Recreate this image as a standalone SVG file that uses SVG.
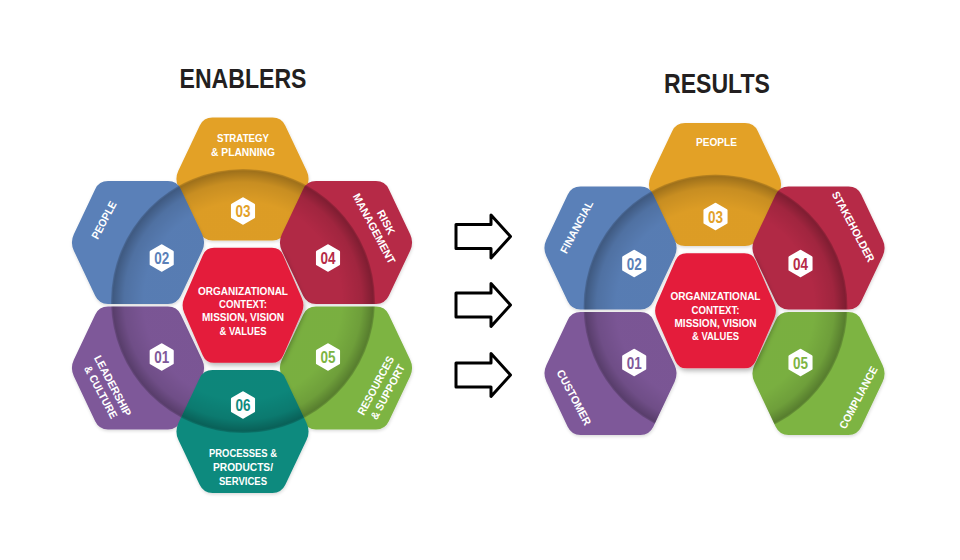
<svg xmlns="http://www.w3.org/2000/svg" xmlns:xlink="http://www.w3.org/1999/xlink" width="960" height="560" viewBox="0 0 960 560">
<style>
.title{font-family:"Liberation Sans",Arial,sans-serif;font-weight:bold;font-size:28px;fill:#231F20;text-anchor:middle}
.lbl{font-family:"Liberation Sans",Arial,sans-serif;font-weight:bold;font-size:11px;fill:#FFFFFF;text-anchor:middle}
.num{font-family:"Liberation Sans",Arial,sans-serif;font-weight:bold;font-size:17px;text-anchor:middle}
.badge{fill:#FFFFFF;stroke:#FFFFFF;stroke-width:2.5;stroke-linejoin:round}
.arrow{fill:#FFFFFF;stroke:#000000;stroke-width:3;stroke-linejoin:round}
</style>
<defs>
<path id="hex" d="M-64.16,8.14 Q-68,0 -64.16,-8.14 L-42.84,-53.36 Q-39,-61.5 -30,-61.5 L30,-61.5 Q39,-61.5 42.84,-53.36 L64.16,-8.14 Q68,0 64.16,8.14 L42.84,53.36 Q39,61.5 30,61.5 L-30,61.5 Q-39,61.5 -42.84,53.36 Z"/>
<path id="hexC" d="M-58.81,7.34 Q-62,0 -58.81,-7.34 L-40.19,-50.16 Q-37,-57.5 -29,-57.5 L29,-57.5 Q37,-57.5 40.19,-50.16 L58.81,-7.34 Q62,0 58.81,7.34 L40.19,50.16 Q37,57.5 29,57.5 L-29,57.5 Q-37,57.5 -40.19,50.16 Z"/>
<polygon id="badge" points="0,-12.5 10.8,-6.2 10.8,6.2 0,12.5 -10.8,6.2 -10.8,-6.2"/>
<path id="arrow" d="M456,-12 L491,-12 L491,-21.5 L510.5,0 L491,21.5 L491,12 L456,12 Z"/>
<radialGradient id="ring" cx="0.5" cy="0.5" r="0.5">
<stop offset="0" stop-color="#000" stop-opacity="0.03"/>
<stop offset="0.75" stop-color="#000" stop-opacity="0.03"/>
<stop offset="0.9" stop-color="#000" stop-opacity="0.12"/>
<stop offset="0.985" stop-color="#000" stop-opacity="0.3"/>
<stop offset="1" stop-color="#000" stop-opacity="0.15"/>
</radialGradient>
<filter id="sh" x="-20%" y="-20%" width="140%" height="140%">
<feDropShadow dx="1.5" dy="2.5" stdDeviation="2.5" flood-color="#000" flood-opacity="0.3"/>
</filter>
<filter id="sh2" x="-20%" y="-20%" width="140%" height="140%">
<feDropShadow dx="0.5" dy="1.5" stdDeviation="1.5" flood-color="#000" flood-opacity="0.15"/>
</filter>
<clipPath id="cl03"><use xlink:href="#hex" transform="translate(242.5,179)"/></clipPath>
<clipPath id="cl02"><use xlink:href="#hex" transform="translate(138,242.5)"/></clipPath>
<clipPath id="cl04"><use xlink:href="#hex" transform="translate(346,242.5)"/></clipPath>
<clipPath id="cl01"><use xlink:href="#hex" transform="translate(138,368)"/></clipPath>
<clipPath id="cl05"><use xlink:href="#hex" transform="translate(346,368)"/></clipPath>
<clipPath id="cl06"><use xlink:href="#hex" transform="translate(242.5,431.5)"/></clipPath>
<clipPath id="cr03"><use xlink:href="#hex" transform="translate(715,184.5)"/></clipPath>
<clipPath id="cr02"><use xlink:href="#hex" transform="translate(610.5,248)"/></clipPath>
<clipPath id="cr04"><use xlink:href="#hex" transform="translate(818.5,248)"/></clipPath>
<clipPath id="cr01"><use xlink:href="#hex" transform="translate(610.5,373.5)"/></clipPath>
<clipPath id="cr05"><use xlink:href="#hex" transform="translate(818.5,373.5)"/></clipPath>
</defs>
<rect width="960" height="560" fill="#FFFFFF"/>

<text class="title" x="243" y="88" textLength="127" lengthAdjust="spacingAndGlyphs">ENABLERS</text>
<text class="title" x="717" y="93" textLength="106" lengthAdjust="spacingAndGlyphs">RESULTS</text>

<!-- ENABLERS -->
<g id="enabler-03-strategy">
<use xlink:href="#hex" transform="translate(242.5,179)" fill="#E3A128" filter="url(#sh2)"/>
<circle cx="243" cy="301" r="132" fill="url(#ring)" clip-path="url(#cl03)"/>
<use xlink:href="#badge" class="badge" transform="translate(243,211)"/>
<text class="num" x="243" y="217.2" fill="#E3A128" textLength="15" lengthAdjust="spacingAndGlyphs">03</text>
<text class="lbl" x="243" y="141.8" textLength="52" lengthAdjust="spacingAndGlyphs">STRATEGY</text>
<text class="lbl" x="243" y="155.8" textLength="64" lengthAdjust="spacingAndGlyphs">&amp; PLANNING</text>
</g>
<g id="enabler-02-people">
<use xlink:href="#hex" transform="translate(138,242.5)" fill="#5A80B8" filter="url(#sh2)"/>
<circle cx="243" cy="301" r="132" fill="url(#ring)" clip-path="url(#cl02)"/>
<use xlink:href="#badge" class="badge" transform="translate(161.7,258)"/>
<text class="num" x="161.7" y="264.2" fill="#5A80B8" textLength="15" lengthAdjust="spacingAndGlyphs">02</text>
<text class="lbl" transform="translate(104,220) rotate(-62)" y="3.8" textLength="41" lengthAdjust="spacingAndGlyphs">PEOPLE</text>
</g>
<g id="enabler-04-risk">
<use xlink:href="#hex" transform="translate(346,242.5)" fill="#B62B47" filter="url(#sh2)"/>
<circle cx="243" cy="301" r="132" fill="url(#ring)" clip-path="url(#cl04)"/>
<use xlink:href="#badge" class="badge" transform="translate(328,258)"/>
<text class="num" x="328" y="264.2" fill="#B62B47" textLength="15" lengthAdjust="spacingAndGlyphs">04</text>
<g transform="translate(380,225.5) rotate(62)">
<text class="lbl" y="-3" textLength="26" lengthAdjust="spacingAndGlyphs">RISK</text>
<text class="lbl" y="10.5" textLength="78" lengthAdjust="spacingAndGlyphs">MANAGEMENT</text>
</g>
</g>
<g id="enabler-01-leadership">
<use xlink:href="#hex" transform="translate(138,368)" fill="#7E5899" filter="url(#sh2)"/>
<circle cx="243" cy="301" r="132" fill="url(#ring)" clip-path="url(#cl01)"/>
<use xlink:href="#badge" class="badge" transform="translate(161.7,357)"/>
<text class="num" x="161.7" y="363.2" fill="#7E5899" textLength="15" lengthAdjust="spacingAndGlyphs">01</text>
<g transform="translate(106.75,389) rotate(62)">
<text class="lbl" y="-3" textLength="67" lengthAdjust="spacingAndGlyphs">LEADERSHIP</text>
<text class="lbl" y="10.5" textLength="58" lengthAdjust="spacingAndGlyphs">&amp; CULTURE</text>
</g>
</g>
<g id="enabler-05-resources">
<use xlink:href="#hex" transform="translate(346,368)" fill="#7DB443" filter="url(#sh2)"/>
<circle cx="243" cy="301" r="132" fill="url(#ring)" clip-path="url(#cl05)"/>
<use xlink:href="#badge" class="badge" transform="translate(328,357)"/>
<text class="num" x="328" y="363.2" fill="#7DB443" textLength="15" lengthAdjust="spacingAndGlyphs">05</text>
<g transform="translate(381.75,388.75) rotate(-62)">
<text class="lbl" y="-3" textLength="65" lengthAdjust="spacingAndGlyphs">RESOURCES</text>
<text class="lbl" y="10.5" textLength="61" lengthAdjust="spacingAndGlyphs">&amp; SUPPORT</text>
</g>
</g>
<g id="enabler-06-processes">
<use xlink:href="#hex" transform="translate(242.5,431.5)" fill="#108A7E" filter="url(#sh2)"/>
<circle cx="243" cy="301" r="132" fill="url(#ring)" clip-path="url(#cl06)"/>
<use xlink:href="#badge" class="badge" transform="translate(243,405)"/>
<text class="num" x="243" y="411.2" fill="#108A7E" textLength="15" lengthAdjust="spacingAndGlyphs">06</text>
<text class="lbl" x="243" y="457.3" textLength="68" lengthAdjust="spacingAndGlyphs">PROCESSES &amp;</text>
<text class="lbl" x="243" y="471.3" textLength="60" lengthAdjust="spacingAndGlyphs">PRODUCTS/</text>
<text class="lbl" x="243" y="485.3" textLength="48" lengthAdjust="spacingAndGlyphs">SERVICES</text>
</g>
<g id="enabler-center">
<use xlink:href="#hexC" transform="translate(243,305.3)" fill="#E41E3A" filter="url(#sh)"/>
<text class="lbl" x="243" y="294.6" textLength="90" lengthAdjust="spacingAndGlyphs">ORGANIZATIONAL</text>
<text class="lbl" x="243" y="308" textLength="48" lengthAdjust="spacingAndGlyphs">CONTEXT:</text>
<text class="lbl" x="243" y="321.4" textLength="82" lengthAdjust="spacingAndGlyphs">MISSION, VISION</text>
<text class="lbl" x="243" y="334.8" textLength="47" lengthAdjust="spacingAndGlyphs">&amp; VALUES</text>
</g>

<!-- RESULTS -->
<g id="result-03-people">
<use xlink:href="#hex" transform="translate(715,184.5)" fill="#E3A128" filter="url(#sh2)"/>
<circle cx="715.5" cy="306.5" r="132" fill="url(#ring)" clip-path="url(#cr03)"/>
<use xlink:href="#badge" class="badge" transform="translate(715.5,216.5)"/>
<text class="num" x="715.5" y="222.7" fill="#E3A128" textLength="15" lengthAdjust="spacingAndGlyphs">03</text>
<text class="lbl" x="716.5" y="145.5" textLength="41" lengthAdjust="spacingAndGlyphs">PEOPLE</text>
</g>
<g id="result-02-financial">
<use xlink:href="#hex" transform="translate(610.5,248)" fill="#5A80B8" filter="url(#sh2)"/>
<circle cx="715.5" cy="306.5" r="132" fill="url(#ring)" clip-path="url(#cr02)"/>
<use xlink:href="#badge" class="badge" transform="translate(634.2,263.5)"/>
<text class="num" x="634.2" y="269.7" fill="#5A80B8" textLength="15" lengthAdjust="spacingAndGlyphs">02</text>
<text class="lbl" transform="translate(576.7,227) rotate(-62)" y="3.8" textLength="58" lengthAdjust="spacingAndGlyphs">FINANCIAL</text>
</g>
<g id="result-04-stakeholder">
<use xlink:href="#hex" transform="translate(818.5,248)" fill="#B62B47" filter="url(#sh2)"/>
<circle cx="715.5" cy="306.5" r="132" fill="url(#ring)" clip-path="url(#cr04)"/>
<use xlink:href="#badge" class="badge" transform="translate(800.5,263.5)"/>
<text class="num" x="800.5" y="269.7" fill="#B62B47" textLength="15" lengthAdjust="spacingAndGlyphs">04</text>
<text class="lbl" transform="translate(853.3,226.7) rotate(62)" y="3.8" textLength="78" lengthAdjust="spacingAndGlyphs">STAKEHOLDER</text>
</g>
<g id="result-01-customer">
<use xlink:href="#hex" transform="translate(610.5,373.5)" fill="#7E5899" filter="url(#sh2)"/>
<circle cx="715.5" cy="306.5" r="132" fill="url(#ring)" clip-path="url(#cr01)"/>
<use xlink:href="#badge" class="badge" transform="translate(634.2,362.5)"/>
<text class="num" x="634.2" y="368.7" fill="#7E5899" textLength="15" lengthAdjust="spacingAndGlyphs">01</text>
<text class="lbl" transform="translate(574,397.5) rotate(62)" y="3.8" textLength="61" lengthAdjust="spacingAndGlyphs">CUSTOMER</text>
</g>
<g id="result-05-compliance">
<use xlink:href="#hex" transform="translate(818.5,373.5)" fill="#7DB443" filter="url(#sh2)"/>
<circle cx="715.5" cy="306.5" r="132" fill="url(#ring)" clip-path="url(#cr05)"/>
<use xlink:href="#badge" class="badge" transform="translate(800.5,362.5)"/>
<text class="num" x="800.5" y="368.7" fill="#7DB443" textLength="15" lengthAdjust="spacingAndGlyphs">05</text>
<text class="lbl" transform="translate(858.3,397.5) rotate(-62)" y="3.8" textLength="69" lengthAdjust="spacingAndGlyphs">COMPLIANCE</text>
</g>
<g id="result-center">
<use xlink:href="#hexC" transform="translate(715.5,310.8)" fill="#E41E3A" filter="url(#sh)"/>
<text class="lbl" x="715.5" y="300.1" textLength="90" lengthAdjust="spacingAndGlyphs">ORGANIZATIONAL</text>
<text class="lbl" x="715.5" y="313.5" textLength="48" lengthAdjust="spacingAndGlyphs">CONTEXT:</text>
<text class="lbl" x="715.5" y="326.9" textLength="82" lengthAdjust="spacingAndGlyphs">MISSION, VISION</text>
<text class="lbl" x="715.5" y="340.3" textLength="47" lengthAdjust="spacingAndGlyphs">&amp; VALUES</text>
</g>

<g id="connectors">
<use xlink:href="#arrow" class="arrow" transform="translate(0,236.5)"/>
<use xlink:href="#arrow" class="arrow" transform="translate(0,305)"/>
<use xlink:href="#arrow" class="arrow" transform="translate(0,375)"/>
</g>
</svg>
